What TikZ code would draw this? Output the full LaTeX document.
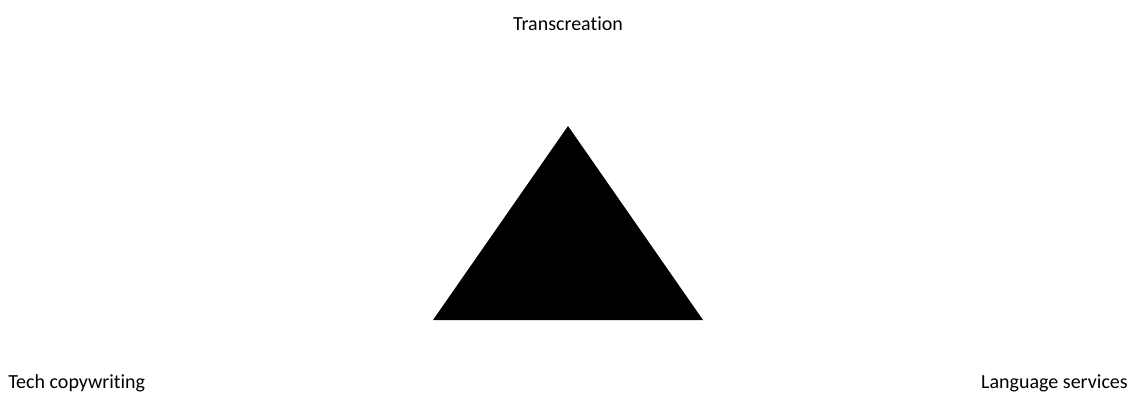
\documentclass[tikz,border=0pt]{standalone}
\usepackage{fontspec}
\setmainfont[Ligatures=NoCommon]{Carlito}
\usetikzlibrary{positioning}
\tikzset{
  lbl/.style={inner sep=0pt,font=\fontsize{15}{18}\selectfont},
}
\begin{document}
\begin{tikzpicture}[x=0.75pt,y=-0.75pt]
\useasboundingbox (0,0) rectangle (1137,394);
% triangle
\coordinate (top) at (568,126);
\coordinate (bl) at (433,320);
\coordinate (br) at (703,320);
\fill[black] (top) -- (bl) -- (br) -- cycle;

% labels
\node[lbl,anchor=base] (trans) at (568,30) {Transcreation};
\node[lbl,anchor=base west] (tech) at (8,388) {Tech copywriting};
\node[lbl,anchor=base east] (lang) at (1128,388) {Language services};
\end{tikzpicture}
\end{document}
